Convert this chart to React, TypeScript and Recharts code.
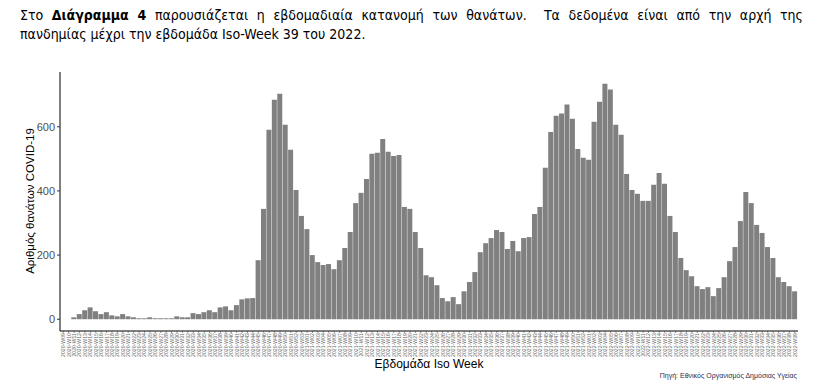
import React from 'react';
import { BarChart, Bar, XAxis, YAxis } from 'recharts';

// weekly COVID-19 deaths
const deaths2020: number[] = [
  0, 0, 6, 16, 28, 37, 25, 16, 22, 12,
  9, 16, 9, 6, 3, 3, 6, 3, 3, 3,
  3, 9, 6, 6, 19, 16, 22, 28, 22, 37,
  40, 28, 44, 62, 65, 66, 184, 344, 591, 684,
  703, 606, 528, 403, 322,
];
const deaths2021: number[] = [
  281, 200, 178, 169, 172, 156, 184, 222, 272, 362,
  394, 437, 516, 519, 562, 522, 509, 512, 350, 344,
  272, 222, 137, 131, 106, 66, 56, 69, 47, 87,
  116, 147, 209, 237, 253, 278, 272, 219, 244, 212,
  253, 256, 328, 350, 472, 584, 634, 641, 669, 625,
  531, 503,
];
const deaths2022: number[] = [
  497, 616, 678, 734, 716, 606, 575, 453, 403, 391,
  369, 369, 419, 456, 422, 322, 272, 191, 153, 134,
  103, 94, 100, 72, 97, 131, 181, 225, 306, 397,
  362, 294, 269, 225, 191, 131, 116, 103, 87,
];

// first iso week shown for each year
const years = [2020, 2021, 2022];
const firstWeeks = [9, 1, 1];
const yTicks = [0, 200, 400, 600];

const pad = (n: number) => (n < 10 ? '0' + n : '' + n);

const data: { week: string; deaths: number }[] = [];
[deaths2020, deaths2021, deaths2022].forEach((arr, yi) => {
  arr.forEach((v, i) => {
    data.push({ week: `${years[yi]}-W${pad(firstWeeks[yi] + i)}`, deaths: v });
  });
});

const WeekTick = (props: any) => {
  const { x, y, payload } = props;
  return (
    <text
      x={x}
      y={y}
      transform={`rotate(-90 ${x} ${y})`}
      textAnchor="end"
      dominantBaseline="central"
      fontSize={5.2}
      fontFamily="Liberation Sans, Arial, sans-serif"
      fill="#666"
    >
      {payload.value}
    </text>
  );
};

const titleFont = '"Liberation Sans Narrow", "DejaVu Sans Condensed", "Noto Sans", sans-serif';

export default function App() {
  return (
    <div style={{ position: 'absolute', left: 0, top: 0, width: 832, height: 380, background: '#fff', overflow: 'hidden' }}>
      <div
        style={{
          position: 'absolute', left: 20, top: 6, width: 783,
          fontFamily: titleFont, fontSize: 14, lineHeight: '19px', color: '#000',
        }}
      >
        <div style={{ textAlign: 'justify', textAlignLast: 'justify', whiteSpace: 'nowrap' as any }}>
          Στο <b>Διάγραμμα 4</b> παρουσιάζεται η εβδομαδιαία κατανομή των θανάτων.&nbsp; Τα δεδομένα είναι από την αρχή της
        </div>
        <div>πανδημίας μέχρι την εβδομάδα Iso-Week 39 του 2022.</div>
      </div>

      <BarChart
        width={832}
        height={380}
        data={data}
        margin={{ top: 72, right: 34, bottom: 0, left: 0 }}
        barCategoryGap="0%"
      >
        <XAxis
          dataKey="week"
          interval={0}
          height={49}
          tick={<WeekTick />}
          tickSize={2}
          tickMargin={0}
          padding={{ left: 0.5, right: 0.5 }}
          axisLine={{ stroke: '#000', strokeWidth: 1 }}
          tickLine={{ stroke: '#333', strokeWidth: 0.5 }}
        />
        <YAxis
          type="number"
          width={60}
          domain={[-36.7, 770.7]}
          ticks={yTicks}
          allowDataOverflow
          tickSize={3}
          tickMargin={2}
          axisLine={{ stroke: '#000', strokeWidth: 1 }}
          tickLine={{ stroke: '#333' }}
          tick={{ fill: '#4d4d4d', fontSize: 11, fontFamily: 'Liberation Sans, Arial, sans-serif' }}
        />
        <Bar dataKey="deaths" fill="#808080" isAnimationActive={false} />
      </BarChart>

      <div
        style={{
          position: 'absolute', left: 30, top: 201, transform: 'translate(-50%, -50%) rotate(-90deg)',
          whiteSpace: 'nowrap', fontFamily: 'Liberation Sans, Arial, sans-serif', fontSize: 11.5, color: '#000',
        }}
      >
        Αριθμός θανάτων COVID-19
      </div>
      <div
        style={{
          position: 'absolute', left: 429, top: 364, transform: 'translate(-50%, -50%)',
          whiteSpace: 'nowrap', fontFamily: 'Liberation Sans, Arial, sans-serif', fontSize: 12, color: '#000',
        }}
      >
        Εβδομάδα Iso Week
      </div>
      <div
        style={{
          position: 'absolute', right: 35, top: 372, whiteSpace: 'nowrap',
          fontFamily: 'Liberation Sans, Arial, sans-serif', fontSize: 7, lineHeight: '8px', color: '#1f2d50',
        }}
      >
        Πηγή: Εθνικός Οργανισμός Δημόσιας Υγείας
      </div>
    </div>
  );
}
